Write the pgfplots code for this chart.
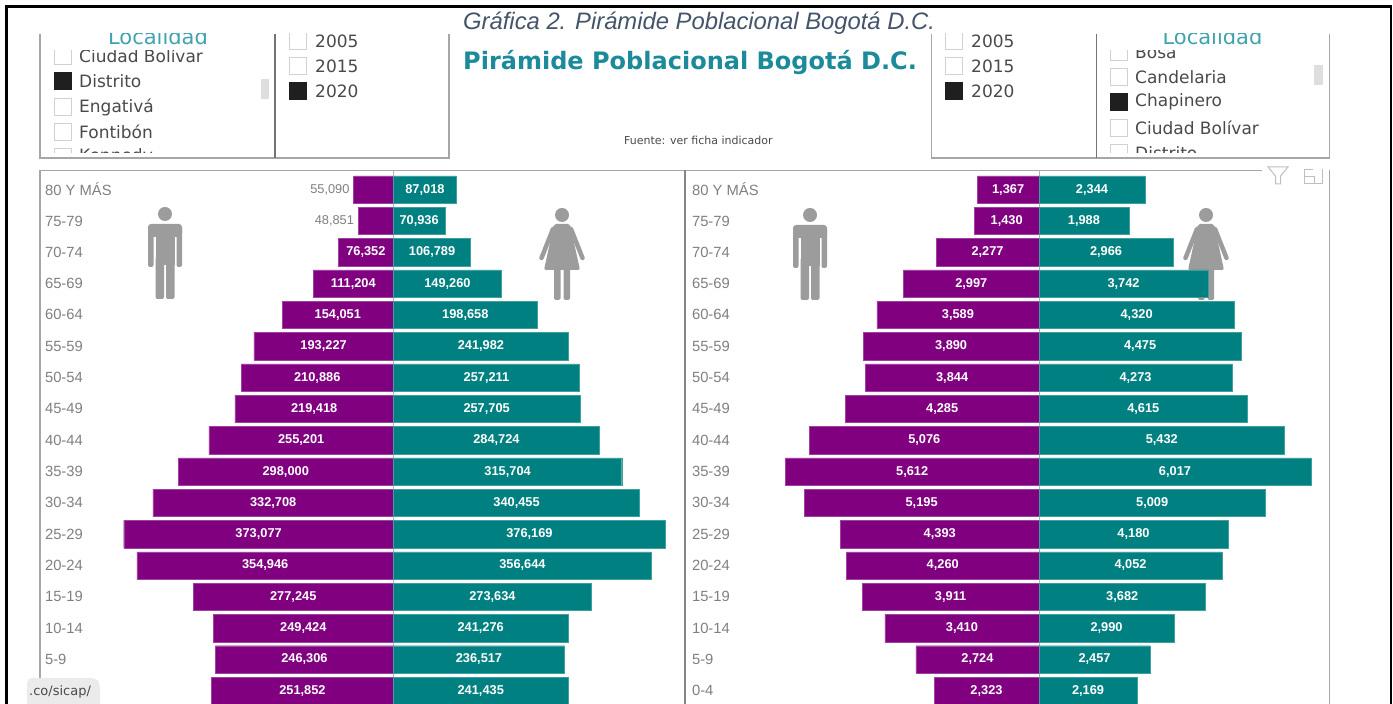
\documentclass[border=0pt]{standalone}
\usepackage{pgfplots}
\pgfplotsset{compat=1.18}
\usepackage{pgfplotstable}
\usepackage{fontspec}
\setmainfont{Liberation Sans}
\newfontfamily\dejavu{DejaVu Sans}
\definecolor{purp}{HTML}{800080}
\definecolor{tealb}{HTML}{008080}
\definecolor{ttl}{HTML}{1B8A9B}
\definecolor{loc}{HTML}{3FA3AE}
\definecolor{panel}{HTML}{A6A6A6}
\definecolor{ink}{HTML}{4A4A4A}
\definecolor{tick}{HTML}{808080}
\definecolor{icon}{HTML}{9C9C9C}
\definecolor{head}{HTML}{44546A}

\pgfplotstableread{
y v
0 251852
1 246306
2 249424
3 277245
4 354946
5 373077
6 332708
7 298000
8 255201
9 219418
10 210886
11 193227
12 154051
13 111204
14 76352
15 48851
16 55090
}\menL
\pgfplotstableread{
y v
0 241435
1 236517
2 241276
3 273634
4 356644
5 376169
6 340455
7 315704
8 284724
9 257705
10 257211
11 241982
12 198658
13 149260
14 106789
15 70936
16 87018
}\womenL
\pgfplotstableread{
y v
0 2323
1 2724
2 3410
3 3911
4 4260
5 4393
6 5195
7 5612
8 5076
9 4285
10 3844
11 3890
12 3589
13 2997
14 2277
15 1430
16 1367
}\menR
\pgfplotstableread{
y v
0 2169
1 2457
2 2990
3 3682
4 4052
5 4180
6 5009
7 6017
8 5432
9 4615
10 4273
11 4475
12 4320
13 3742
14 2966
15 1988
16 2344
}\womenR

\newcommand{\man}[2]{\begin{scope}[shift={(#1,#2)}]
\fill[icon] (17,7) circle (7);
\fill[icon,rounded corners=3pt] (0,17) rectangle (34,30);
\fill[icon,rounded corners=2pt] (0,20) rectangle (5.5,60);
\fill[icon,rounded corners=2pt] (28.5,20) rectangle (34,60);
\fill[icon] (7.5,17) rectangle (26.5,58);
\fill[icon,rounded corners=2pt] (7.5,50) rectangle (16,92);
\fill[icon,rounded corners=2pt] (18,50) rectangle (26.5,92);
\end{scope}}
\newcommand{\woman}[2]{\begin{scope}[shift={(#1,#2)}]
\fill[icon] (23,7) circle (7);
\fill[icon,rounded corners=2pt] (15,16) -- (31,16) -- (34,30) -- (41,62) -- (5,62) -- (12,30) -- cycle;
\draw[icon,line width=4.5pt,line cap=round] (14,21) -- (2.5,50);
\draw[icon,line width=4.5pt,line cap=round] (32,21) -- (43.5,50);
\fill[icon,rounded corners=1.5pt] (15,58) rectangle (21.5,92);
\fill[icon,rounded corners=1.5pt] (24.5,58) rectangle (31,92);
\end{scope}}
\newcommand{\cbox}[2]{\draw[black!18,line width=1pt,fill=white] (#1,#2-8) rectangle +(17,17);}
\newcommand{\cboxon}[2]{\fill[black!88] (#1,#2-8.5) rectangle +(17.5,17.5);}
\newcommand{\stxt}[3]{\node[anchor=west,inner sep=0pt,text=ink,font=\dejavu\fontsize{17}{18}\selectfont] at (#1,#2) {#3};}

\pgfplotsset{pyr/.style={
  scale only axis, height=533.5pt, anchor=south west,
  ymin=-0.421, ymax=16.61,
  axis line style={draw=none}, major tick length=0pt,
  xtick=\empty, ytick={0,...,16},
  yticklabels={0-4,5-9,10-14,15-19,20-24,25-29,30-34,35-39,40-44,45-49,50-54,55-59,60-64,65-69,70-74,75-79,80 Y MÁS},
  yticklabel style={anchor=west,xshift=1.5pt,text=tick,font=\fontsize{14.8}{15}\selectfont},
  /pgf/number format/assume math mode=true,
  point meta=explicit,
  nodes near coords={\pgfmathprintnumber[fixed,precision=0,1000 sep={,},assume math mode=true]{\pgfplotspointmeta}},
  nodes near coords align={center},
},
pbar/.style={xbar,bar width=27.5pt,/pgf/bar shift=0pt,draw=#1!75!white,line width=0.4pt,fill=#1,nodes near coords={},point meta=x},
plab/.style={draw=none,mark=none,every node near coord/.style={text=white,inner sep=0pt,font=\bfseries\fontsize{12.8}{13}\selectfont}},
}

\begin{document}
\begin{tikzpicture}[x=1pt,y=1pt]
\path[use as bounding box,fill=white] (0,0) rectangle (1393,704);
\begin{scope}[shift={(0,704)},yscale=-1]
% outer frame
\draw[black,line width=2.2pt] (6.5,704) -- (6.5,6.5) -- (1391,6.5) -- (1391,704);
% titles
\node[anchor=west,inner sep=0pt,text=head,font=\itshape\fontsize{23.8}{24}\selectfont] at (463,23.5) {Gráfica 2. Pirámide Poblacional Bogotá D.C.};
\node[anchor=west,inner sep=0pt,text=ttl,font=\dejavu\bfseries\fontsize{24}{25}\selectfont] at (463,62.5) {Pirámide Poblacional Bogotá D.C.};
\node[anchor=west,inner sep=0pt,text=ink,font=\dejavu\fontsize{11}{12}\selectfont] at (624,140) {Fuente: ver ficha indicador};
% slicer frames
\draw[panel,line width=1.3pt] (40,34) -- (40,158) -- (449,158) -- (449,34);
\draw[panel!70!black,line width=1.1pt] (275,34) -- (275,158);
\draw[panel,line width=1.3pt] (931.5,34) -- (931.5,158) -- (1329.5,158) -- (1329.5,34);
\draw[panel!70!black,line width=1.1pt] (1096.5,34) -- (1096.5,158);
% left locality list
\begin{scope}
\clip (41,34) rectangle (274,46);
\node[text=loc,font=\dejavu\fontsize{21}{22}\selectfont,inner sep=0pt] at (158,37) {Localidad};
\end{scope}
\begin{scope}
\clip (41,51) rectangle (274,153);
\cbox{54}{56}\stxt{79}{56}{Ciudad Bolívar}
\cboxon{54}{81}\stxt{79}{81}{Distrito}
\cbox{54}{107}\stxt{79}{107}{Engativá}
\cbox{54}{132}\stxt{79}{132}{Fontibón}
\cbox{54}{157}\stxt{79}{157}{Kennedy}
\end{scope}
\fill[black!13] (261,79) rectangle (269,99);
% left years
\begin{scope}
\clip (276,34) rectangle (448,157);
\cbox{289}{41}\stxt{315}{41}{2005}
\cbox{289}{66}\stxt{315}{66}{2015}
\cboxon{289}{91}\stxt{315}{91}{2020}
\end{scope}
% right years
\begin{scope}
\clip (932,34) rectangle (1096,157);
\cbox{945}{41}\stxt{971}{41}{2005}
\cbox{945}{66}\stxt{971}{66}{2015}
\cboxon{945}{91}\stxt{971}{91}{2020}
\end{scope}
% right locality list
\begin{scope}
\clip (1097,34) rectangle (1329,46);
\node[text=loc,font=\dejavu\fontsize{21}{22}\selectfont,inner sep=0pt] at (1212.5,37) {Localidad};
\end{scope}
\begin{scope}
\clip (1097,51) rectangle (1329,153);
\cbox{1110}{52}\stxt{1135}{52}{Bosa}
\cbox{1110}{77}\stxt{1135}{77}{Candelaria}
\cboxon{1110}{102}\stxt{1135}{102}{Chapinero}
\cbox{1110}{128}\stxt{1135}{128}{Ciudad Bolívar}
\cbox{1110}{153}\stxt{1135}{153}{Distrito}
\end{scope}
\fill[black!13] (1314,65) rectangle (1323,85);
% chart panels
\draw[panel,line width=1.2pt] (40,704) -- (40,170.5) -- (1329.5,170.5) -- (1329.5,704);
\draw[panel!80!black,line width=1.6pt] (685,170.5) -- (685,704);
\draw[black!30,line width=0.8pt] (393.5,170.5) -- (393.5,704);
\draw[black!30,line width=0.8pt] (1039,170.5) -- (1039,704);
% icons
\man{148}{207}
\woman{539}{208}
\man{793}{208}
\woman{1183}{208}
\end{scope}

\begin{axis}[pyr,at={(40pt,0pt)},width=645pt,xmin=-488900,xmax=403200,
  yticklabels={,5-9,10-14,15-19,20-24,25-29,30-34,35-39,40-44,45-49,50-54,55-59,60-64,65-69,70-74,75-79,80 Y MÁS}]
\addplot[pbar=purp] table[x expr=-\thisrow{v},y=y] {\menL};
\addplot[pbar=tealb] table[x=v,y=y] {\womenL};
\addplot[plab,skip coords between index={15}{17}] table[x expr=-\thisrow{v}/2,y=y,meta=v] {\menL};
\addplot[plab,every node near coord/.style={text=tick,anchor=east,xshift=-4pt,inner sep=0pt,font=\fontsize{12.8}{13}\selectfont},skip coords between index={0}{15}] table[x expr=-\thisrow{v},y=y,meta=v] {\menL};
\addplot[plab] table[x expr=\thisrow{v}/2,y=y,meta=v] {\womenL};
\end{axis}

\begin{axis}[pyr,at={(685pt,0pt)},width=644.5pt,xmin=-7832,xmax=6427,
  yticklabel style={xshift=2pt}]
\addplot[pbar=purp] table[x expr=-\thisrow{v},y=y] {\menR};
\addplot[pbar=tealb] table[x=v,y=y] {\womenR};
\addplot[plab] table[x expr=-\thisrow{v}/2,y=y,meta=v] {\menR};
\addplot[plab] table[x expr=\thisrow{v}/2,y=y,meta=v] {\womenR};
\end{axis}

\begin{scope}[shift={(0,704)},yscale=-1]
% filter and focus icons
\fill[white] (1262,165) rectangle (1329,171.5);
\draw[black!25,line width=1pt] (1268,167) -- (1288,167) -- (1280.5,176) -- (1280.5,184) -- (1275.5,184) -- (1275.5,176) -- cycle;
\draw[black!25,line width=1pt] (1304,170) -- (1322,170) -- (1322,184) -- (1304,184) -- cycle;
\draw[black!25,line width=1pt] (1304,177) -- (1314,177) -- (1314,184);
\draw[white,line width=1.5pt] (1313,170) -- (1322,170);
% status tooltip
\fill[black!8,rounded corners=5pt] (27,678) -- (96,678) -- (100,684) -- (100,710) -- (27,710) -- cycle;
\node[anchor=west,inner sep=0pt,text=ink,font=\dejavu\fontsize{13}{14}\selectfont] at (29,692) {.co/sicap/};
\end{scope}
\end{tikzpicture}
\end{document}
